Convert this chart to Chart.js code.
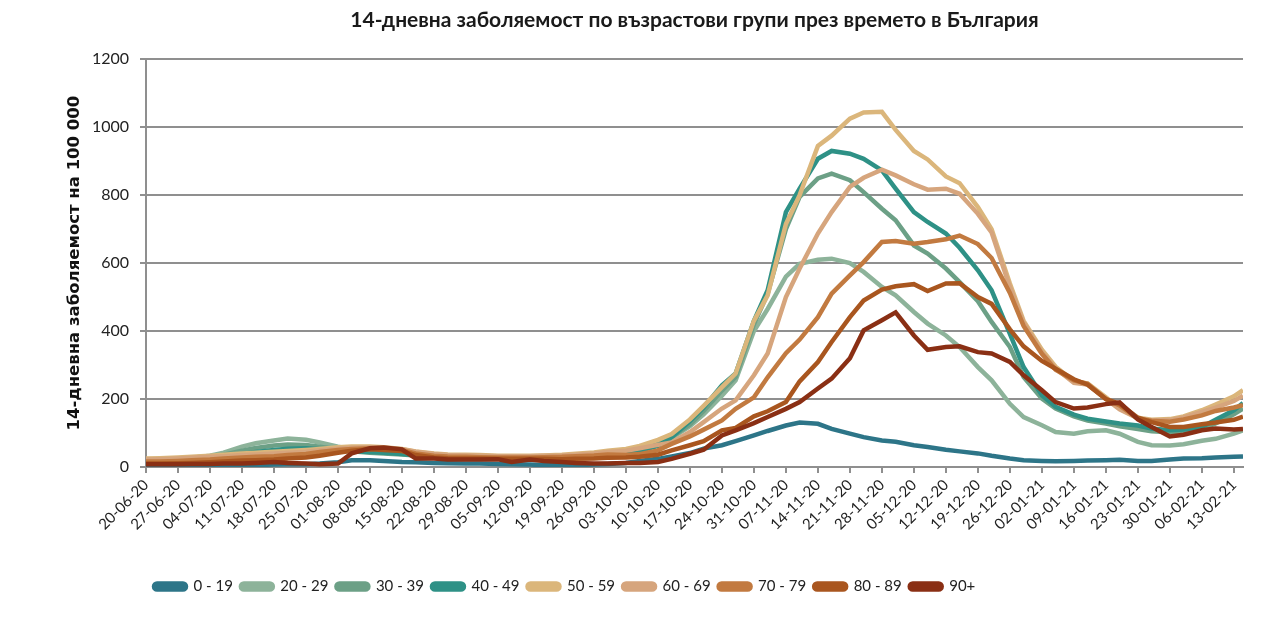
<!DOCTYPE html>
<html lang="bg">
<head>
<meta charset="utf-8">
<title>14-дневна заболяемост по възрастови групи</title>
<script src="https://cdn.jsdelivr.net/npm/chart.js@4.4.1/dist/chart.umd.min.js"></script>
<style>
  body { margin: 0; background: #fff; }
</style>
</head>
<body>
<canvas id="incidenceChart" width="1271" height="621"></canvas>
<script>
// day number counted from 20-06-20
const days = [0,3,7,10,14,17,21,24,28,31,35,38,42,45,49,52,56,59,63,66,70,73,77,80,84,87,91,94,98,101,
  105,108,112,115,119,122,126,129,133,136,140,143,147,150,154,157,161,164,168,171,175,178,182,185,189,192,
  196,199,203,206,210,213,217,220,224,227,231,234,238,240];

const tickLabels = ["20-06-20","27-06-20","04-07-20","11-07-20","18-07-20","25-07-20","01-08-20","08-08-20",
  "15-08-20","22-08-20","29-08-20","05-09-20","12-09-20","19-09-20","26-09-20","03-10-20","10-10-20","17-10-20",
  "24-10-20","31-10-20","07-11-20","14-11-20","21-11-20","28-11-20","05-12-20","12-12-20","19-12-20","26-12-20",
  "02-01-21","09-01-21","16-01-21","23-01-21","30-01-21","06-02-21","13-02-21"];

const ageGroups = ["0 - 19", "20 - 29", "30 - 39", "40 - 49", "50 - 59", "60 - 69", "70 - 79", "80 - 89", "90+"];

const age0_19 = [5,5,5,5,5,6,6,6,7,8, 8,10,14,20,20,18,15,14,12,11, 10,10,9,8,7,6,6,6,7,9,
  12,18,24,31,41,54,64,76,93,106, 122,131,127,112,98,88,78,74,64,59, 51,46,40,33,25,20,18,17,18,19,
  20,21,18,18,22,25,26,28,30,31];
const age20_29 = [20,21,24,27,33,42,60,70,78,84, 80,72,60,52,45,42,40,37,33,30, 28,27,26,26,26,27,27,29,32,36,
  42,52,68,85,120,155,210,255,400,465, 560,598,610,613,600,574,530,505,456,422, 387,353,294,255,186,147,123,103,98,105,
  108,98,74,64,63,67,77,83,98,108];
const age30_39 = [18,19,21,24,29,36,48,56,63,66, 65,60,52,46,42,40,37,34,31,29, 28,27,27,27,27,27,28,30,33,37,
  42,52,68,88,125,165,225,265,420,510, 700,795,849,863,844,809,760,726,652,628, 584,544,488,427,353,265,201,172,149,137,
  128,120,112,105,102,105,112,128,155,172];
const age40_49 = [17,17,19,21,25,30,38,44,50,54, 55,52,48,46,44,42,38,34,30,28, 26,25,25,25,25,25,26,28,31,35,
  40,48,62,88,135,175,240,275,430,520, 750,819,907,930,922,907,873,819,750,721, 687,645,579,520,392,294,211,177,154,142,
  134,128,122,113,108,110,118,139,167,188];
const age50_59 = [25,26,28,30,33,36,40,42,45,47, 50,53,58,60,60,58,53,46,40,37, 36,35,33,33,33,34,36,39,43,48,
  53,62,80,97,140,180,235,275,430,505, 715,800,945,975,1025,1043,1045,992,930,905, 855,835,765,700,540,430,345,295,252,246,
  205,172,145,139,141,149,167,184,208,226];
const age60_69 = [22,23,25,27,30,32,35,37,40,42, 45,49,54,57,58,56,52,45,38,35, 34,33,32,32,32,33,34,36,40,44,
  48,55,65,72,103,132,172,196,270,334, 500,584,687,750,824,851,875,858,832,816, 819,804,745,690,530,425,338,290,248,243,
  200,170,143,137,138,146,162,175,194,210];
const age70_79 = [16,16,18,20,22,25,28,30,32,35, 38,44,50,53,55,53,50,40,33,31, 30,29,28,28,28,29,30,32,34,37,
  35,38,49,68,90,110,137,171,205,264, 335,375,441,510,564,603,662,665,657,662, 670,681,656,615,512,415,333,286,255,245,
  200,181,142,136,133,140,152,165,175,182];
const age80_89 = [10,10,11,12,14,16,19,20,22,25, 28,33,42,48,52,50,47,35,28,26, 25,25,24,24,24,24,23,24,25,27,
  28,30,36,49,64,76,108,115,149,164, 191,252,309,368,441,490,522,532,538,518, 540,541,500,480,405,355,312,289,258,242,
  200,186,145,132,118,118,126,131,139,148];
const age90plus = [8,8,8,9,9,10,10,12,15,12, 10,8,10,40,55,57,52,25,25,22, 22,22,23,15,22,18,15,12,10,10,
  12,12,15,24,39,51,93,108,129,147, 171,191,231,260,320,402,432,455,387,345, 353,355,338,334,309,270,226,191,172,175,
  185,190,140,118,90,95,108,113,110,112];

const series = [age0_19, age20_29, age30_39, age40_49, age50_59, age60_69, age70_79, age80_89, age90plus];
const lineColors = ["#2d7588", "#8db39a", "#6ca086", "#2e9186", "#dbb67b", "#d6a57d", "#c27a40", "#a9561f", "#8a2f14"];

const textFont = "Lato, 'Open Sans', sans-serif";
const gridColor = "#8f8f8f";

new Chart(document.getElementById("incidenceChart"), {
    type: 'line',
    data: {
        datasets: ageGroups.map((label, i) => ({
            label: label,
            data: series[i].map((v, j) => ({ x: days[j], y: v })),
            borderColor: lineColors[i],
            backgroundColor: lineColors[i],
            borderWidth: 4.5,
            pointRadius: 0,
            tension: 0,
            order: ageGroups.length - i // older groups drawn on top
        }))
    },
    options: {
        responsive: false,
        animation: false,
        layout: {
            padding: { left: 58, right: 28, top: 6, bottom: 17 }
        },
        plugins: {
            title: {
                display: true,
                fullSize: false, // centre over the plot, not the whole canvas
                text: '14-дневна заболяемост по възрастови групи през времето в България',
                color: '#1a1a1a',
                font: { family: textFont, size: 21, weight: 'bold' },
                padding: { top: 2, bottom: 26 }
            },
            legend: {
                display: true,
                position: 'bottom',
                align: 'start',
                fullSize: false,
                labels: {
                    boxWidth: 32,
                    boxHeight: 6,
                    useBorderRadius: true,
                    borderRadius: 3,
                    padding: 8,
                    color: '#222',
                    font: { family: textFont, size: 15 },
                    sort: (a, b) => a.datasetIndex - b.datasetIndex
                }
            },
            tooltip: { enabled: false }
        },
        scales: {
            x: {
                type: 'linear',
                min: 0,
                max: 240,
                afterBuildTicks: (scale) => {
                    scale.ticks = scale.ticks.filter(t => t.value % 7 === 0);
                },
                afterFit: (scale) => { scale.height = 104; },
                ticks: {
                    stepSize: 7,
                    includeBounds: false,
                    autoSkip: false,
                    maxRotation: 45,
                    minRotation: 45,
                    color: '#222',
                    font: { family: textFont, size: 15 },
                    callback: (v) => tickLabels[v / 7]
                },
                grid: { drawOnChartArea: false, color: gridColor, lineWidth: 2, tickLength: 6 },
                border: { color: gridColor, width: 2 }
            },
            y: {
                min: 0,
                max: 1200,
                afterFit: (scale) => { scale.width = 88; },
                ticks: {
                    stepSize: 200,
                    color: '#222',
                    font: { family: textFont, size: 16 },
                    padding: 11,
                    callback: (v) => String(v)
                },
                grid: { color: gridColor, lineWidth: 2, tickLength: 6 },
                border: { color: gridColor, width: 2 },
                title: {
                    display: true,
                    text: '14-дневна заболяемост на 100 000',
                    color: '#111',
                    font: { family: 'DejaVu Sans', size: 16.5, weight: 'bold' },
                    padding: { top: 7, bottom: 0 }
                }
            }
        }
    }
});
</script>
</body>
</html>
